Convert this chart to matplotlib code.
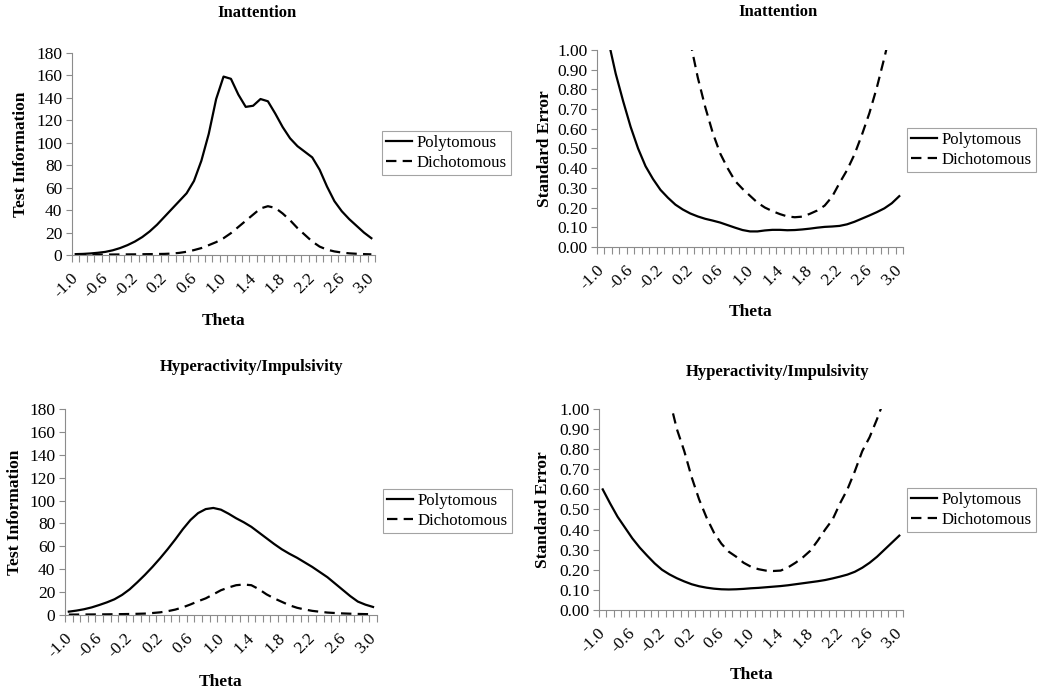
import numpy as np
import matplotlib
matplotlib.use('Agg')
import matplotlib.pyplot as plt
import matplotlib.transforms as mtransforms
from matplotlib.ticker import FixedLocator

plt.rcParams['font.family'] = ['Liberation Serif', 'DejaVu Serif']
plt.rcParams['lines.scale_dashes'] = False

theta = [-1.0, -0.9, -0.8, -0.7, -0.6, -0.5, -0.4, -0.3, -0.2, -0.1,
         0.0, 0.1, 0.2, 0.3, 0.4, 0.5, 0.6, 0.7, 0.8, 0.9,
         1.0, 1.1, 1.2, 1.3, 1.4, 1.5, 1.6, 1.7, 1.8, 1.9,
         2.0, 2.1, 2.2, 2.3, 2.4, 2.5, 2.6, 2.7, 2.8, 2.9, 3.0]
tick_labels = ['-1.0', '-0.6', '-0.2', '0.2', '0.6', '1.0',
               '1.4', '1.8', '2.2', '2.6', '3.0']
series_names = ['Polytomous', 'Dichotomous']

# Inattention, test information
inatt_info_poly = [0.8, 1.0, 1.4, 2.0, 2.8, 4.2, 6.2, 8.8, 12, 16,
                   21, 27, 34, 41, 48, 55, 66, 84, 108, 139,
                   159, 157, 143, 132, 133, 139, 137, 126, 114, 104,
                   97, 92, 87, 76, 61, 48, 39, 32, 26, 20, 15]
inatt_info_dich = [0.3, 0.3, 0.35, 0.4, 0.4, 0.45, 0.5, 0.55, 0.6, 0.7,
                   0.8, 0.9, 1.0, 1.3, 1.9, 2.9, 4.4, 6.2, 8.8, 11.5,
                   15, 19.5, 25, 30.5, 36, 41.5, 43.5, 42, 37, 31,
                   24, 18, 12, 7.5, 4.8, 3.2, 2.2, 1.5, 1.1, 0.8, 0.6]

# Inattention, standard error
inatt_se_poly = [1.25, 1.05, 0.88, 0.74, 0.61, 0.50, 0.41, 0.345, 0.29, 0.25,
                 0.215, 0.19, 0.17, 0.155, 0.143, 0.134, 0.124, 0.111, 0.098, 0.086,
                 0.079, 0.079, 0.084, 0.087, 0.087, 0.085, 0.086, 0.089, 0.093, 0.098,
                 0.102, 0.104, 0.107, 0.115, 0.128, 0.144, 0.16, 0.177, 0.196, 0.222, 0.258]
inatt_se_dich = [1.8, 1.8, 1.7, 1.6, 1.6, 1.5, 1.4, 1.35, 1.3, 1.2,
                 1.12, 1.08, 1.04, 0.86, 0.71, 0.58, 0.475, 0.40, 0.335, 0.295,
                 0.26, 0.225, 0.20, 0.182, 0.167, 0.155, 0.151, 0.154, 0.168, 0.185,
                 0.21, 0.255, 0.325, 0.39, 0.47, 0.57, 0.68, 0.81, 0.96, 1.12, 1.3]

# Hyperactivity/Impulsivity, test information
hyper_info_poly = [2.9, 3.8, 5.0, 6.6, 8.7, 11, 13.7, 17.5, 22.4, 28.5,
                   35, 42, 49.5, 57.5, 66, 75, 83, 89, 92.5, 93.5,
                   92, 88.5, 84.5, 81, 77, 72, 67, 62, 57.4, 53.5,
                   50, 46, 42, 37.5, 33, 27.5, 22, 16.5, 11.7, 9, 7]
hyper_info_dich = [0.3, 0.35, 0.4, 0.45, 0.5, 0.55, 0.65, 0.75, 0.85, 1.0,
                   1.2, 1.7, 2.3, 3.3, 4.7, 6.7, 9.2, 12, 14.5, 18,
                   21.6, 24, 26, 26.6, 26, 22.5, 18, 14.5, 11.5, 8.5,
                   6.3, 4.8, 3.6, 2.8, 2.1, 1.7, 1.35, 1.1, 0.9, 0.75, 0.65]

# Hyperactivity/Impulsivity, standard error
hyper_se_poly = [0.60, 0.53, 0.464, 0.41, 0.356, 0.31, 0.27, 0.232, 0.20, 0.177,
                 0.158, 0.142, 0.128, 0.118, 0.111, 0.106, 0.103, 0.102, 0.103, 0.105,
                 0.108, 0.11, 0.113, 0.116, 0.119, 0.123, 0.128, 0.133, 0.138, 0.143,
                 0.149, 0.157, 0.166, 0.176, 0.19, 0.21, 0.235, 0.265, 0.30, 0.335, 0.37]
hyper_se_dich = [1.9, 1.7, 1.6, 1.5, 1.4, 1.35, 1.25, 1.2, 1.12, 1.05,
                 0.90, 0.79, 0.66, 0.55, 0.46, 0.385, 0.33, 0.29, 0.265, 0.235,
                 0.215, 0.203, 0.196, 0.194, 0.196, 0.212, 0.235, 0.262, 0.295, 0.345,
                 0.40, 0.45, 0.53, 0.60, 0.69, 0.79, 0.86, 0.95, 1.05, 1.15, 1.25]

fig = plt.figure(figsize=(10.5, 6.93), dpi=100)

# axes rect, title, series, y label, kind, title pos, ylabel x, xlabel y, legend anchor
panels = [
    ([0.0686, 0.632, 0.2886, 0.2915], 'Inattention', inatt_info_poly, inatt_info_dich,
     'Test Information', 'info', (0.61, 1.198), -0.142, -0.287, (0.3638, 0.811)),
    ([0.5686, 0.6436, 0.2914, 0.2843], 'Inattention', inatt_se_poly, inatt_se_dich,
     'Standard Error', 'se', (0.59, 1.194), -0.144, -0.289, (0.8638, 0.8153)),
    ([0.0619, 0.1126, 0.2970, 0.2973], 'Hyperactivity/Impulsivity', hyper_info_poly, hyper_info_dich,
     'Test Information', 'info', (0.598, 1.205), -0.135, -0.286, (0.3648, 0.2944)),
    ([0.5705, 0.1198, 0.2895, 0.2900], 'Hyperactivity/Impulsivity', hyper_se_poly, hyper_se_dich,
     'Standard Error', 'se', (0.589, 1.186), -0.158, -0.284, (0.8638, 0.2958)),
]

gray = '#8c8c8c'
fs = 12.5
for rect, title, poly, dich, ylab, kind, tpos, ylx, xly, lpos in panels:
    ax = fig.add_axes(rect)
    ax.plot(theta, poly, color='black', lw=1.6, label=series_names[0])
    ax.plot(theta, dich, color='black', lw=1.6, linestyle=(0, (7.5, 4.5)),
            label=series_names[1])

    ax.set_xlim(-1.05, 3.05)
    if kind == 'info':
        ax.set_ylim(0, 180)
        ax.set_yticks(np.arange(0, 181, 20))
        ax.set_yticklabels(['%d' % v for v in np.arange(0, 181, 20)])
    else:
        ax.set_ylim(0, 1.0)
        ax.set_yticks(np.linspace(0, 1, 11))
        ax.set_yticklabels(['%.2f' % v for v in np.linspace(0, 1, 11)])

    ax.xaxis.set_major_locator(FixedLocator([float(t) for t in tick_labels]))
    ax.set_xticklabels(tick_labels)
    ax.xaxis.set_minor_locator(FixedLocator(np.arange(42) * 0.1 - 1.05))
    ax.tick_params(axis='x', which='major', length=0, pad=11, labelsize=fs)
    ax.tick_params(axis='x', which='minor', length=5, color=gray, width=0.8)
    ax.tick_params(axis='y', length=4, color=gray, width=0.8, labelsize=fs, pad=3)
    offset = mtransforms.ScaledTranslation(-5 / 100, 0, fig.dpi_scale_trans)
    for lab in ax.get_xticklabels():
        lab.set_rotation(45)
        lab.set_ha('right')
        lab.set_va('top')
        lab.set_rotation_mode('anchor')
        lab.set_transform(lab.get_transform() + offset)

    for s in ['top', 'right']:
        ax.spines[s].set_visible(False)
    for s in ['left', 'bottom']:
        ax.spines[s].set_color(gray)
        ax.spines[s].set_linewidth(0.8)

    ax.set_ylabel(ylab, fontsize=fs, fontweight='bold')
    ax.yaxis.set_label_coords(ylx, 0.5)
    ax.set_xlabel('Theta', fontsize=fs, fontweight='bold')
    ax.xaxis.set_label_coords(0.5, xly)
    ax.text(tpos[0], tpos[1], title, transform=ax.transAxes, ha='center', va='center',
            fontsize=12, fontweight='bold')

    leg = ax.legend(loc='upper left', bbox_to_anchor=lpos, bbox_transform=fig.transFigure,
                    fontsize=12.1, frameon=True, fancybox=False, borderaxespad=0,
                    handlelength=1.55, handletextpad=0.25, labelspacing=0.2, borderpad=0.25)
    leg.get_frame().set_edgecolor(gray)
    leg.get_frame().set_linewidth(0.8)

plt.savefig('out.png', dpi=100)
